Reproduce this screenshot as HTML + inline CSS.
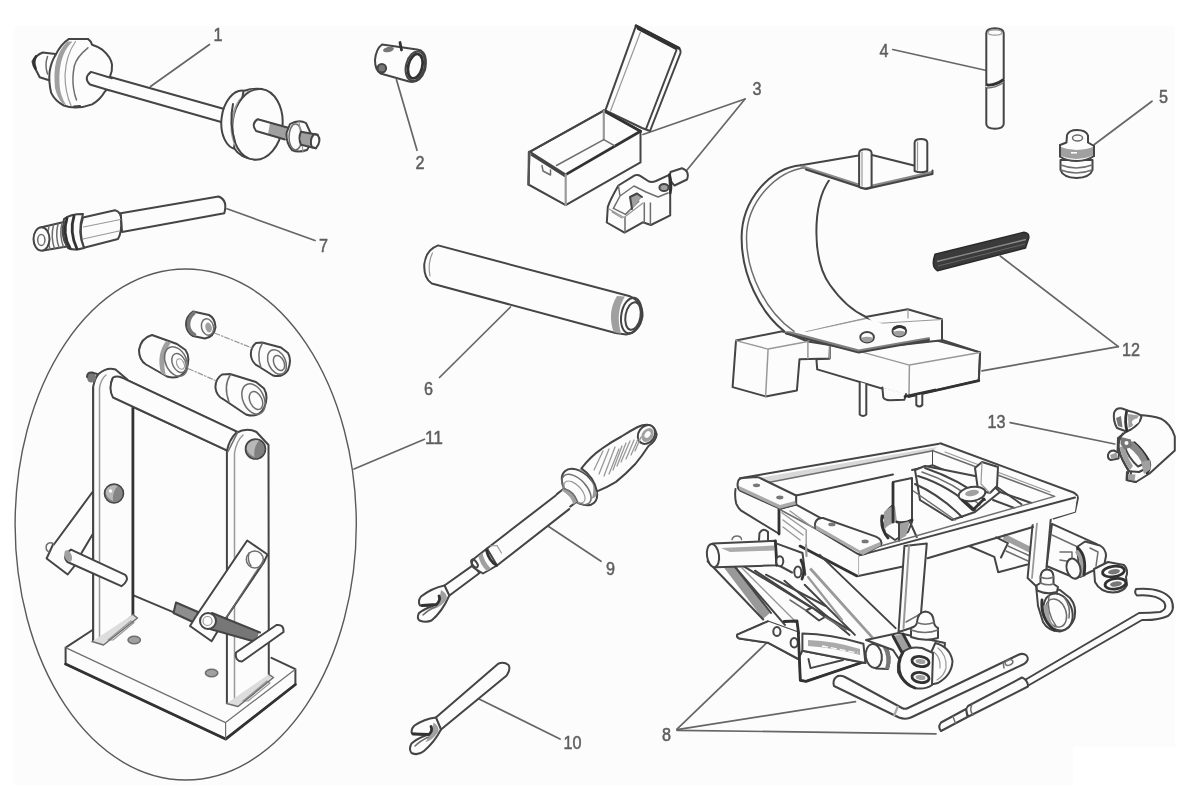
<!DOCTYPE html>
<html><head><meta charset="utf-8"><title>Workshop service tools</title>
<style>
html,body{margin:0;padding:0;background:#fff;}
body{width:1182px;height:811px;overflow:hidden;font-family:"Liberation Sans",sans-serif;}
svg{display:block;position:absolute;left:0;top:0;}
.d{stroke:#444;stroke-width:2;fill:none;stroke-linecap:round;stroke-linejoin:round}
.dw{stroke:#444;stroke-width:2;fill:#fcfcfc;stroke-linecap:round;stroke-linejoin:round}
.k{stroke:#333;stroke-width:2.8;fill:none;stroke-linecap:round;stroke-linejoin:round}
.m{stroke:#6e6e6e;stroke-width:1.5;fill:none;stroke-linecap:round;stroke-linejoin:round}
.mw{stroke:#6e6e6e;stroke-width:1.5;fill:#fcfcfc;stroke-linecap:round;stroke-linejoin:round}
.l{stroke:#999;stroke-width:1.2;fill:none;stroke-linecap:round;stroke-linejoin:round}
.g{fill:#a0a0a0;stroke:none}
.gd{fill:#777;stroke:none}
.w{fill:#fcfcfc;stroke:none}
.ld{stroke:#666;stroke-width:1.7;fill:none;stroke-linecap:round}
text{font-family:"Liberation Sans",sans-serif;font-weight:normal;font-size:18px;fill:#5e5e5e;stroke:#5e5e5e;stroke-width:0.5px;}
</style></head><body>
<svg width="1182" height="811" viewBox="0 0 1182 811">
<defs><filter id="bl" x="-2%" y="-2%" width="104%" height="104%"><feGaussianBlur stdDeviation="0.65"/></filter></defs>
<polygon points="14,26 1175,26 1175,747 1073,747 1073,785 14,785" fill="#fcfcfc"/>
<g filter="url(#bl)">
<!-- leaders -->
<g class="ld">
<path d="M209.5 44.5 L150.5 86.5"/>
<path d="M396.4 79.5 L417 150.3"/>
<path d="M745 99 L643 134.5"/><path d="M745 99 L687 170"/>
<path d="M892.7 49.5 L986.5 70.5"/>
<path d="M1152 101.2 L1094 144.7"/>
<path d="M510.5 307 L439.5 377.5"/>
<path d="M227 208.8 L315 240.5"/>
<path d="M677 729.2 L767 642.5"/><path d="M677 729.6 L855.5 701.7"/><path d="M677 730.3 L936 733.8"/>
<path d="M547.5 525.7 L601 561.3"/>
<path d="M478 698.4 L560 739"/>
<path d="M424.5 439.3 L354 469"/>
<path d="M1118.3 346.7 L1000.2 256"/><path d="M1118.3 346.7 L982 370.8"/>
<path d="M1010.2 422.7 L1114.7 444"/>
</g>
<g>
<text x="213.5" y="41" textLength="9" lengthAdjust="spacingAndGlyphs">1</text>
<text x="415.5" y="169" textLength="9" lengthAdjust="spacingAndGlyphs">2</text>
<text x="752.5" y="95" textLength="9" lengthAdjust="spacingAndGlyphs">3</text>
<text x="879.5" y="57" textLength="9" lengthAdjust="spacingAndGlyphs">4</text>
<text x="1159" y="103" textLength="9" lengthAdjust="spacingAndGlyphs">5</text>
<text x="424" y="395" textLength="9" lengthAdjust="spacingAndGlyphs">6</text>
<text x="319" y="252" textLength="9" lengthAdjust="spacingAndGlyphs">7</text>
<text x="662" y="741.3" textLength="9" lengthAdjust="spacingAndGlyphs">8</text>
<text x="606" y="575.3" textLength="9" lengthAdjust="spacingAndGlyphs">9</text>
<text x="563.5" y="749" textLength="18" lengthAdjust="spacingAndGlyphs">10</text>
<text x="425" y="443.5" textLength="18" lengthAdjust="spacingAndGlyphs">11</text>
<text x="1122" y="355.8" textLength="18" lengthAdjust="spacingAndGlyphs">12</text>
<text x="987.5" y="427.8" textLength="18" lengthAdjust="spacingAndGlyphs">13</text>
</g>
<!-- item 1 -->
<g>
 <!-- rod -->
 <path class="dw" d="M105 75.5 L226 109.5 L222 122.2 L104 88.7Z"/>
 <!-- left disc -->
 <!-- nut left -->
 <path class="dw" d="M55.4 54.1 L42.8 52.5 Q36 55 32.5 61.4 Q33 66 35.5 69 L39.7 77.2 L49.1 80.3 L56 80Z"/>
 <path class="k" d="M36 56.5 Q32.5 61 35.5 68.5"/>
 <path class="m" d="M47.5 56.5 Q44.5 65 47.5 74"/>
 <path class="dw" d="M69 38.9 L87.9 38.9 Q91 41 92.1 44.7 Q98 46.5 102.6 49.9 Q111 57 112 64.6 Q112.5 71 110 76.5 L108.5 87 Q107 90 104.7 91.8 Q100 100 92.1 104.4 Q84 107.5 75.3 107.6 Q69 107.5 63.8 105.5 Q55 101 51.2 92.9 Q48.5 82 49.6 71.9 Q51 62 55.4 55.2 Q61 44 69 38.9Z"/>
 <path class="g" d="M67 41.5 Q59 50 56 62 Q53.5 72 55 88 Q57 97 62 103 L66.5 105.5 Q60 96 59.5 84 Q58.5 68 63 56 Q66.5 47 72.5 41.5Z"/>
 <path class="l" d="M75.5 41.5 Q66 55 65 75 Q65 92 71 105.5"/>
 <path class="m" d="M87.9 47.8 Q76.5 57 74.3 66 Q72 78 73.5 88 Q74.5 95 76.5 100"/>
 <path class="d" d="M69 38.9 L87.9 38.9 M74 106.5 L80 106"/>
 <path class="dw" d="M112 78.3 L91 71.9 Q83 78 90 84.5 L109 90.3"/>
 <!-- right disc -->
 <g transform="rotate(7 240 120)">
  <ellipse class="dw" cx="240" cy="120" rx="18.5" ry="29.5"/>
 </g>
 <path class="dw" d="M243.5 91 Q252 88 262 89 L255 159.5 Q240 158 234 148Z"/>
 <g transform="rotate(6 257.5 124.3)">
  <ellipse class="dw" cx="257.5" cy="124.3" rx="25" ry="35.5"/>
  <path class="g" d="M250 90 A24 35 0 0 0 246 157 A17 34 0 0 1 250 90Z"/>
 </g>
 <path class="d" d="M233 104 Q229 122 235 142"/>
 <!-- stub -->
 <path class="g" d="M270 122.8 L288.3 127.9 L285 139.6 L268 134.6Z"/>
 <path class="d" d="M288.3 127.7 L257.8 119.2 Q250.5 124 256.1 131 L284.9 139.5"/>
 <!-- nut -->
 <path class="dw" d="M290 124 Q299 119 306 123 L310.5 133 Q312 143 307 150 Q298 153 292 150 Q286 143 286.5 133Z"/>
 <ellipse class="m" cx="295.5" cy="137" rx="6.5" ry="13"/>
 <path class="l" d="M299 121.5 L303 152"/>
 <!-- end stub -->
 <path class="g" d="M301 132 L314 134 L312.5 147.5 L301 144.8Z"/>
 <path class="dw" d="M314 134 L317.5 134.7 Q322 141 316 148.2 L312 147.3 Q309 140 314 134Z"/>
 <path class="d" d="M301 131.8 L317.5 134.7 M301 144.8 L316 148.2 M301 131.8 Q298 138 301 144.8"/>
</g>
<!-- item 7 -->
<g>
 <path class="dw" d="M120.7 213.2 L218.5 196.5 Q228 200 224.3 213.2 L122 232Z"/>
 <!-- hex body -->
 <path class="dw" d="M83 217.5 L115 210.3 Q121.5 212 121 220 Q122 232 118 239 L84 247.8 Q78 232 83 217.5Z"/>
 <path class="l" d="M83.5 227 L120.5 219.5 M83 239 L119 231"/>
 <!-- flange -->
 <path class="dw" d="M64 219 Q70 214 83 214 Q77 232 84 248 Q74 251 68 248 Q60 234 64 219Z"/>
 <path class="k" d="M67 218 Q62 234 70 248 M74 216 Q69 232 77 249"/>
 <!-- threaded -->
 <path class="dw" d="M41.5 227.3 L64 222 Q60 234 67 246.5 L43 250.5Z"/>
 <path class="m" d="M49 226 Q46 238 50 249 M53.5 225 Q50.5 237 54.5 248.5 M58 224 Q55 236 59 247.5 M62 223 Q59 235 63.5 247"/>
 <ellipse class="dw" cx="41.5" cy="239" rx="8" ry="11.7"/>
 <ellipse class="m" cx="41.3" cy="240" rx="3.6" ry="5.6"/>
</g>
<!-- item 2 -->
<g>
 <path class="dw" d="M382 44.5 Q376 49 375 60 Q375 70 380.5 73.5 L409 81.5 Q420 84 425 70 Q428 55 421 50.5 L417 49.6 Z"/>
 <ellipse class="d" cx="415.3" cy="66.2" rx="9.3" ry="15" transform="rotate(14 415.3 66.2)"/>
 <ellipse class="k" cx="415.3" cy="66.2" rx="7" ry="12.5" transform="rotate(14 415.3 66.2)"/>
 <ellipse class="gd" cx="388.5" cy="49.5" rx="5.5" ry="2.6" transform="rotate(-12 388.5 49.5)"/>
 <path class="k" d="M400 42.5 L401.5 50"/>
 <circle class="gd" cx="381.8" cy="68.3" r="4.3"/>
 <circle class="d" cx="381.8" cy="68.3" r="4.3"/>
</g>
<!-- item 3 box -->
<g>
 <!-- lid -->
 <path class="dw" d="M636 25.7 L679 48 Q681 50 680.5 53 L650 131 L642 128 L605.4 110.3Z"/>
 <path class="k" d="M636 25.7 L679 48.3 M638 28.5 L676 48.5"/>
 <path class="d" d="M676.5 50 L646 129"/>
 <path class="l" d="M640.5 32 L610.5 111"/>
 <!-- box body -->
 <path class="dw" d="M603.8 110.7 L640.5 131.2 L640.5 162.4 L565.7 205.1 L528.4 184.5 L529.5 151.8Z"/>
 <path class="k" d="M603.8 110.7 L640.5 131.2"/>
 <path class="k" d="M640.5 131.2 L565.7 174.6"/>
 <path class="d" d="M529.9 151.8 L603.8 110.7"/>
 <path class="d" d="M529.9 151.8 L565.7 174.6 M531.5 155 L564.5 176"/>
 <path class="m" d="M565.7 174.6 L565.7 205.1" style="stroke-width:2.2;stroke:#999"/>
 <path class="m" d="M603.8 111 L603.8 139.6" style="stroke-width:2.2;stroke:#999"/>
 <path class="m" d="M603.8 139.6 L556.5 165.5 M603.8 139.6 L614.4 145.7"/>
 <path class="m" d="M529 152 L528.6 184.5" style="stroke-width:2.4;stroke:#555"/>
 <path class="m" d="M542 165.5 L543 171 L550.5 175 L550.5 170"/>
 <!-- clip -->
 <path class="dw" d="M606.8 222.5 L607.8 207 Q610 200 618.4 185.5 L634.7 175.4 Q638 174.5 641 176.4 L648.9 181.5 Q652 182.5 656 181 L669.2 174.8 L670.2 193 L670.2 215.4 L650.9 225 L642.8 222.3 L624.5 232.6Z"/>
 <path class="dw" d="M670.5 172 L682 168.2 Q690 171 687 179.5 L674.5 185.5 Q668 180 670.5 172Z"/>
 <path class="k" d="M669.5 174.5 Q672 184 670.2 193"/>
 <ellipse class="g" cx="664" cy="187.5" rx="4.6" ry="3.6"/>
 <ellipse class="d" cx="664" cy="187.5" rx="4.6" ry="3.6"/>
 <path class="m" d="M613.4 208.3 L625.5 214.4 L638.7 201.2 M625 217.4 L625 232.6 M644.3 203 L644.3 222.5 M650.4 203 L650.4 224.5"/>
 <path class="m" d="M618.4 185.5 L620 196 L613.4 208.3 M620 196 L634 186 L646 192 L658 197 L668 193"/>
 <path class="g" d="M630 197 L637 193.5 L642 197 L632 209Z"/>
 <path class="d" d="M630 197 L637 193.5 L642 197 M630 197 L632 209"/>
 <path class="l" d="M609 209 L624 217.5 L643 203 M612 212 L622 218"/>
</g>
<!-- item 4 pin -->
<g>
 <path class="dw" d="M986.3 33 Q986.5 28.5 995 28.3 Q1003.5 28.5 1003.7 33 L1003.7 124 Q1003.5 128.5 995 128.7 Q986.5 128.5 986.3 124Z"/>
 <path d="M985 86.5 L988.5 84.5 L988.5 88.5Z M1005 79 L1001.5 81 L1001.5 84Z" fill="#fcfcfc"/><path class="k" d="M987.5 85 Q995 85.5 1003 80"/>
 <path class="m" d="M987 88 Q996 88 1003.5 82.5"/>
 <ellipse class="l" cx="995" cy="32.5" rx="7" ry="2.6"/>
</g>
<!-- item 5 plug -->
<g>
 <path class="dw" d="M1060.5 160 L1092.5 160 L1092.5 170 Q1090 177.5 1076.5 178 Q1063 177.5 1060.5 170Z"/>
 <path class="m" d="M1061 165 Q1076 171 1092 165 M1061 170 Q1076 176 1092 170"/>
 <path class="dw" d="M1060 145 L1066.5 142.5 L1067 135 Q1069 130 1077 130 Q1086 130 1088 135.5 L1088 142.5 L1094 146 L1094 156 Q1087 161 1077 161 Q1066 161 1060 156.5Z"/>
 <path class="g" d="M1060.5 147 Q1077 153 1093.5 147 L1093.5 155.5 Q1077 162 1060.5 156Z"/>
 <path class="d" d="M1060 145 L1060 156.5 M1094 146 L1094 156"/>
 <ellipse class="m" cx="1077.5" cy="138" rx="5" ry="3"/>
 <path class="w" d="M1071 152 h6 v1.6 h-6z"/>
</g>
<!-- item 6 tube -->
<g>
 <path class="dw" d="M438.1 245.4 L630 296.3 Q643 302 642.5 316 Q640 332 626 334.5 L615.5 333 L431.8 283.5 Q423.5 278 424.3 264 Q426 250 438.1 245.4Z"/>
 <path class="g" d="M617 296 Q607 312 613.5 332 L621 333.8 Q615 312 625 296.5Z"/>
 <ellipse class="d" cx="631.3" cy="315.5" rx="10" ry="18" transform="rotate(10 631.3 315.5)"/>
 <ellipse class="d" cx="633" cy="316" rx="7.5" ry="14" transform="rotate(10 633 316)"/>
 <path class="l" d="M432.5 253 Q427.5 263 430 276"/>
</g>
<!-- item 12 -->
<g>
 <!-- right block + beam -->
 <path class="dw" d="M858.7 351 L929.8 338.5 L980.1 352.4 L978.8 380.6 L908.9 396.5 L817.2 369.4 L816.4 359.2 L829.5 358.4 L829.9 345Z"/>
 <path class="d" d="M942 340 L980.1 352.4 L978.8 380.6" />
 <path class="k" d="M978.8 380.6 L908.9 396.5"/>
 <path class="l" d="M860.4 351.6 L909.4 365.1 L980 352.4 M909.4 365.1 L909 395.5" style="stroke-width:1.5"/>
 <!-- back block -->
 <path class="dw" d="M865.4 317 L907.7 309.3 L942 319.3 L942 340.3 L900 345Z"/>
 <path class="l" d="M908 309.5 L908 318 M868 324 L942 319.5" />
 <!-- pins below -->
 <path class="dw" d="M859.7 382 L859.7 414.5 Q863 417.5 866.3 414.5 L866.3 384"/>
 <path class="dw" d="M882.4 387.5 L883.2 397 Q884 400 890 400.3 L904.4 399.8 L906 394"/>
 <path class="dw" d="M916.3 395 L916.3 405 Q919.3 408 922.3 405 L922.3 394"/>
 <path class="k" d="M905 396.5 L935 390"/>
 <!-- left block -->
 <path class="dw" d="M736 340.6 L782.5 331.3 L808 341.5 L829.9 345 L829.5 358.4 L799.5 359.2 L796.9 390.5 L765.6 396.4 L732.6 387.1Z"/>
 <path class="l" d="M736 340.6 L768.1 349.1 L807.9 341.5 M768.1 349.1 L765.6 396.4 M807.9 341.5 L807.9 358.6 M829.9 345 L829.5 358" style="stroke-width:1.5"/>
 <!-- plate -->
 <path class="w" d="M784.2 331.3 L865.4 318.6 L929.8 338.5 L858.7 351Z"/>
 <path class="l" d="M806.2 331.3 L865.4 318.6" style="stroke-width:1.5"/>
 <path d="M784.2 331.3 L858.7 351 L929.8 338.5" style="stroke:#808080;stroke-width:3;fill:none;stroke-linejoin:round"/>
 <path class="d" d="M786 333.5 L858.7 352.6 L929 340"/>
 <!-- bolts -->
 <ellipse class="dw" cx="867.1" cy="337.2" rx="6.8" ry="5.2"/><path class="g" d="M861 338 Q867 335.5 873.3 338 Q872 342.3 867 342.3 Q862 342.3 861 338Z"/>
 <ellipse class="dw" cx="899.3" cy="331.3" rx="6.8" ry="5.2"/><path class="g" d="M893.2 332 Q899 329.5 905.5 332 Q904 336.3 899.3 336.3 Q894 336.3 893.2 332Z"/>
 <path class="k" d="M894 328.5 Q899 325 904.5 328"/>
 <!-- curved band -->
 <path class="w" d="M801 165.2 C770 168 741.6 200 741.6 238 C741.6 275 760 312 784.2 331.3 L806 331.3 L866 317 C855 312 842 302 830 285 C812 260 812 205 829.2 180Z"/>
 <path class="d" d="M801 165.2 C770 168 741.6 200 741.6 238 C741.6 275 760 312 784.2 331.3"/>
 <path class="m" d="M806 167.5 C776 171 746.5 202 746.5 238 C746.5 273 766 312 794 331.3"/>
 <path class="d" d="M829.2 180 C812 205 812 260 830 285 C842 302 855 312 866 317"/>
 <!-- top plate -->
 <path class="w" d="M801 165.2 L864.8 154.2 L932.2 171.3 L866 187.5 L829.2 180Z"/>
 <path class="d" d="M801 165.2 L860 155.2 M871 154.8 L915 165.8"/>
 <path d="M801 166.5 L866 187.5 L932 172.5" style="stroke:#8a8a8a;stroke-width:3.2;fill:none;stroke-linejoin:round"/>
 <path class="d" d="M806 169.5 L866 189 L932.5 174 L932.5 170.5"/>
 <!-- pins -->
 <path class="dw" d="M859.1 187 L859.1 153 Q859.5 149.3 865.3 149.3 Q871.3 149.3 871.6 153 L871.6 187 Q865.5 190 859.1 187Z"/>
 <path class="l" d="M862 152 L862 186"/>
 <path class="dw" d="M914.6 171 L914.6 142.5 Q915 139 921 139 Q927 139 927.3 142.5 L927.3 171 Q921 173.5 914.6 171Z"/>
 <path class="l" d="M917.5 142 L917.5 170"/>
 <!-- dark rod -->
 <path d="M935 254.2 L1024 232.3 Q1029.5 233 1028.8 238 L1025.5 248 L937.5 270.8 Q930.5 267 935 254.2Z" fill="#3a3a3a" stroke="#2c2c2c" stroke-width="1.4" stroke-linejoin="round"/>
 <path d="M937 261.5 L1026 239.5" stroke="#8a8a8a" stroke-width="1.3" fill="none"/>
 <path d="M938 266 L1025 244" stroke="#666" stroke-width="1" fill="none"/>
</g>
<!-- item 13 clamp -->
<g>
 <path class="dw" d="M1139 415 Q1152 415.5 1161 418.7 Q1171 424 1174.8 436.5 L1174.8 450.5 L1149.5 473.5 L1136 482 L1127 480 L1128.5 471 L1117.6 450 L1118 438 L1126.5 431.5Z"/>
 <!-- front ring -->
 <path class="k" d="M1134.4 442.7 Q1143 450 1149.2 461.4 Q1151 468 1147 473"/>
 <path d="M1132 441 Q1143 449 1148.5 462 L1144 468 Q1140 455 1127 446Z" fill="#888"/>
 <path class="d" d="M1123 433.5 Q1117.5 440 1119 449 Q1121 460 1129.4 471.3 L1139 472 L1147 468 M1124.5 445.6 Q1128 458 1138 466.5 L1143.5 464"/>
 <path class="g" d="M1119.5 447 Q1122 459 1130 470 L1133 466 Q1127 457 1124.5 446Z"/>
 <!-- top lug -->
 <path class="dw" d="M1114 413 Q1116 407.5 1122 408.5 L1129 411 Q1139 413 1141.5 416.5 Q1140 424 1131 429.5 L1126.5 431.5 L1117 428 Q1113 421 1114 413Z"/>
 <path class="gd" d="M1116 418 L1121 416 L1122.5 427.5 L1118 426Z"/>
 <path class="k" d="M1126.5 412 Q1124.5 422 1127 431"/>
 <path class="g" d="M1128 414 L1139 415.5 L1132 426.5 L1128.5 428Z"/>
 <ellipse class="w" cx="1135.5" cy="421.5" rx="3.8" ry="2.6" transform="rotate(-30 1135.5 421.5)"/>
 <!-- center lug -->
 <path class="gd" d="M1121 437 L1131 439.5 L1132 447 L1124 449.5 L1120.5 444Z"/><circle class="w" cx="1126.5" cy="443" r="2"/>
 <!-- left lug -->
 <path class="dw" d="M1108 455 Q1109 450.5 1114 450.5 L1119 453 L1118.5 458.5 L1111 460 Q1107.5 459 1108 455Z"/>
 <path class="g" d="M1110 455 L1116.5 452.5 L1117.5 457.5 L1111.5 459Z"/>
 <!-- bottom lugs -->
 <path class="g" d="M1141 462 L1150 460 L1151 469 L1144 474Z"/>
 <path class="d" d="M1127 472 L1126.5 480 L1136 482 M1131 471.5 L1130.5 480.5"/>
 <path class="g" d="M1128 474 L1135.5 474.5 L1134.5 481 L1128 479.5Z"/>
</g>
<!-- item 11 ellipse group -->
<g>
 <ellipse cx="185.7" cy="524.5" rx="170.6" ry="255.5" fill="none" stroke="#5a5a5a" stroke-width="1.4"/>
 <!-- bushings -->
 <g>
  <!-- A small -->
  <path class="dw" d="M193 311.5 Q186 316 186 325 Q187 333 193 336 L205 338.5 Q214 337 215.5 327 Q215 318 209 315Z"/>
  <path d="M194 313 Q188 318 188.5 325.5 Q189.5 332 194.5 334.5" stroke="#777" stroke-width="3.6" fill="none" stroke-linecap="round"/>
  <ellipse class="m" cx="207.5" cy="327" rx="6" ry="8.3" transform="rotate(-15 207.5 327)"/>
  <ellipse class="g" cx="208.6" cy="327.5" rx="3.2" ry="5" transform="rotate(-15 208.6 327.5)"/>
  <!-- B left big -->
  <path class="dw" d="M152 335 Q141 338 139 350 Q139 360 146 364.5 L167 376.5 Q180 380 186 370 Q191 358 185.5 350 L177 344Z"/>
  <path class="g" d="M166 341 Q156 355 161 373 L166 376 Q161 357 171 342.5Z"/>
  <ellipse class="m" cx="176" cy="361.5" rx="10.5" ry="15.5" transform="rotate(-25 176 361.5)"/>
  <ellipse class="m" cx="179" cy="363" rx="6.5" ry="10" transform="rotate(-25 179 363)"/>
  <ellipse class="l" cx="180.5" cy="364" rx="3.5" ry="5.5" transform="rotate(-25 180.5 364)"/>
  <!-- C right top -->
  <path class="dw" d="M256 343 Q250 348 251 356 Q252 363 258 366 L273 375.5 Q283 378 288 370 Q292 360 288 353 L281 347.5 L262 342.5Z"/>
  <path class="m" d="M262.5 343 Q256 353 261 367.5"/>
  <ellipse class="m" cx="277" cy="362" rx="8.5" ry="13" transform="rotate(-25 277 362)"/>
  <ellipse class="m" cx="279" cy="363" rx="5" ry="8" transform="rotate(-25 279 363)"/>
  <!-- D right bottom -->
  <path class="dw" d="M222 374.5 Q215 379 215.5 388 Q216.5 396 223 399 L246 414.5 Q258 418.5 264 408 Q269 397 264 388.5 L256 382 L230 374Z"/>
  <path class="m" d="M230.5 374.5 Q223 386 229 402"/>
  <ellipse class="m" cx="253.5" cy="399" rx="10.5" ry="16" transform="rotate(-25 253.5 399)"/>
  <ellipse class="m" cx="256" cy="400.5" rx="6" ry="9.5" transform="rotate(-25 256 400.5)"/>
  <path class="l" d="M215 333.2 L253 348.4 M188.5 368.7 L217.5 381.4" stroke-dasharray="5 2 1.5 2"/>
 </g>
 <!-- base plate -->
 <path class="w" d="M65.6 647.6 L92.5 630 L132.9 595 L226.9 630 L271.5 657.8 L295.4 669.2 L295.4 684.5 L225.6 739.1 L65.6 664.1Z"/><path class="d" d="M65.6 647.6 L92.5 630 M65.6 647.6 L65.6 664.1 L225.6 739.1 L295.4 684.5 L295.4 669.2 L271.5 657.8"/>
 <path class="k" d="M65.6 664.1 L225.6 739.1 L295.4 684.5"/>
 <path class="m" d="M65.6 647.6 L225.6 722.6 L295.4 669.2 M225.6 722.6 L225.6 739.1" style="stroke-width:1.2"/>
 <!-- back plate -->
 <path class="w" d="M132.9 400 L226.9 446 L226.9 630 L132.9 595Z"/>
 <path class="d" d="M132.9 595.1 L175 612.9"/>
 <!-- top bar -->
 <path class="dw" d="M113 377.5 Q118 374 127.3 380.2 L237.8 432.2 L229 451.3 L113 397.5 Q108 388 113 377.5Z"/>
 <!-- left upright -->
 <path class="dw" d="M93.2 388 L93.2 640.5 L100 642 L132.9 614.6 L132.9 404 L111 394.5Z"/>
 <path class="w" d="M93.2 640 L93.2 386 Q95 378 98.5 374 Q107 367 115 369 L127 379 L111 378 Q108 388 112 397 L132.9 407 L132.9 614 L100 641.5Z"/>
 <path class="d" d="M93.2 640.5 L93.2 386.5 Q95 378 98.5 374 Q107 366.5 115.5 369.5 L127.3 379.5"/>
 <path class="l" d="M99.5 640 L99.5 388 Q101 379 106 375" style="stroke-width:1.5"/>
 <path class="k" d="M132.9 408 L132.9 614.6"/>
 <ellipse class="gd" cx="91.5" cy="377.6" rx="4.5" ry="5"/><path class="d" d="M87 377 Q87 372 92 372.5 L97 374"/>
 <!-- top bar redraw over upright -->
 <path class="dw" d="M113 377.5 Q118 374.5 127.3 380.2 L237.8 432.2 L229 451.3 L113 397.5 Q108 388 113 377.5Z"/>
 <!-- nut on left upright -->
 <circle cx="114" cy="493.5" r="9.5" fill="#858585"/><path d="M105 490 Q110 484 118 485.5 Q112 492 113 501 Q106 498 105 490Z" fill="#b8b8b8"/><circle class="d" cx="114" cy="493.5" r="9.5" style="stroke-width:1.6"/>
 <circle class="w" cx="110.5" cy="491" r="1.7"/>
 <!-- left arm -->
 <path class="d" d="M92.5 492 L53.5 545 M92.5 534.5 L81.5 553"/>
 <path class="dw" d="M53 544.5 L46.6 558.5 L67.7 574.5 L74.5 566"/>
 <path class="m" d="M54 544 Q49 541 46.5 545 Q45 550 49 552"/>
 <!-- left pin -->
 <path class="dw" d="M71 549.6 L125.3 574.8 Q130 580 121.4 586.2 L67.5 562 Q61.5 556 71 549.6Z"/>
 <ellipse class="g" cx="68.2" cy="556" rx="3.5" ry="6" transform="rotate(-20 68.2 556)"/>
 <!-- right upright -->
 <path class="w" d="M226.9 703 L226.9 450 Q229 440 236 432.5 Q247 427 256 432 L268.5 445 L268.8 674 L234.5 703.5Z"/>
 <path class="d" d="M226.9 703 L226.9 451 Q229 440 236 433 Q247 427 256.5 432 L268.5 445 L268.8 674.3"/>
 <path class="l" d="M234.5 703 L234.5 453 Q236.5 441 243 435" style="stroke-width:1.5"/>
 <path class="m" d="M228 451.5 L237.8 432.2"/>
 <circle cx="255.5" cy="449" r="10" fill="#808080"/><path d="M246 446 Q251 439 259.5 440 Q253 447 254.5 457 Q247 454 246 446Z" fill="#b8b8b8"/><circle class="d" cx="255.5" cy="449" r="10" style="stroke-width:1.6"/>
 <!-- gray stub -->
 <path d="M176 602.5 L198 612 L195 623 L173.5 613Z" fill="#8e8e8e"/><path class="d" d="M176 602.5 L198 612 L195 623 L173.5 613Z"/>
 <!-- right arm -->
 <path class="dw" d="M247.2 540.5 L267.5 554.5 L263.7 562.5 L222 624 L211.6 641.3 L190 626 L195.5 617Z"/>
 <circle class="m" cx="254.8" cy="559.5" r="8.5"/><path class="m" d="M249 553 Q247 560 251 566"/>
 <path class="m" d="M263 561 L222 624" style="stroke-width:1.2"/>
 <!-- right pin -->
 <path class="gd" d="M213 614 L259 632.5 L256 641.5 L211 629Z"/>
 <path class="d" d="M212 613 L260 632.5 M210 629 L256 642"/>
 <circle class="dw" cx="208" cy="621" r="8"/><circle class="l" cx="207.5" cy="621" r="4.5"/>
 <!-- T pin -->
 <path class="dw" d="M236 652.5 L276.5 625 Q284 624 283.5 632 L242 661.5 Q234.5 661 236 652.5Z"/>
 <path d="M132.9 614.6 L137.5 618 L103.5 645 L92 641.5Z" fill="#ddd"/><path class="l" d="M131 621 L108 640 L113 640 L134 622.5Z"/>
 <path class="m" d="M132.9 614.6 L137.5 618 L103.5 645 L92 641.5"/>
 <path d="M268.8 674.3 L273.5 677.5 L238 706.5 L226.5 703.5Z" fill="#ddd"/><path class="l" d="M267 681 L243 701 L248 701 L270 683Z"/>
 <path class="m" d="M268.8 674.3 L273.5 677.5 L238 706.5 L226.5 703.5"/>
 <ellipse class="g" cx="134.2" cy="640" rx="6.2" ry="3.8"/><ellipse class="m" cx="134.2" cy="640" rx="6.2" ry="3.8"/>
 <ellipse class="g" cx="211.6" cy="673" rx="6.2" ry="3.8"/><ellipse class="m" cx="211.6" cy="673" rx="6.2" ry="3.8"/>
</g>
<!-- item 9 -->
<g>
 <!-- thin shaft + fork -->
 <path class="dw" d="M472.8 565.4 L444.1 585.7 L449.1 595.8 L479.6 573Z"/>
 <path class="dw" d="M444.5 585.5 Q432 588 421 596.5 Q417.5 601 420 605.5 L433 606 Q424 609 419 613 Q416.5 618 419.5 620.5 Q426 623 431.5 620.5 Q442 612 449.3 595.5Z"/>
 <path class="g" d="M441 590 Q447 593 447 599 Q440 608 433 609 Q440 600 441 590Z"/>
 <path class="k" d="M422 605.5 L436.5 604.5 Q441 600 439 596"/>
 <path class="m" d="M436 606.5 Q428 610 423 615"/>
 <!-- thick shaft -->
 <path class="w" d="M555.7 495.5 L487 548.5 L497 565.5 L569.2 509.1Z"/><path class="d" d="M555.7 495.5 L487 548.5 M497 565.5 L569.2 509.1"/>
 <!-- sleeve -->
 <path class="dw" d="M487 548.5 L473 559.5 Q470 565 474 568 L483 573.5 L497 565.5Z"/>
 <path class="g" d="M478.5 556 Q480 565 487 571 L491 568.5 Q484 562 482.5 553Z"/>
 <path class="k" d="M486.4 550 Q489 561 496.5 565.4"/>
 <ellipse class="d" cx="474.5" cy="563.5" rx="2.3" ry="4.6" transform="rotate(-35 474.5 563.5)"/>
 <path class="l" d="M490 546 L497 545.5 L501.5 553"/>
 <!-- collar -->
 <ellipse class="dw" cx="579.5" cy="487" rx="13.5" ry="21.5" transform="rotate(-43 579.5 487)"/>
 <path d="M581.5 468.5 Q592 471 596.5 481 Q599 490 595.5 497 L591.5 499 Q595 490 592 482 Q588 473 578.5 470Z" fill="#999"/>
 <ellipse class="m" cx="576.5" cy="489.5" rx="10" ry="18.5" transform="rotate(-43 576.5 489.5)"/>
 <ellipse class="l" cx="574.5" cy="492" rx="7" ry="13.5" transform="rotate(-43 574.5 492)"/>
 <path class="w" d="M556.6 494.4 L564 488.5 Q573 491 577 501.5 L570.2 506.6Z"/>
 <path class="d" d="M556.6 494.4 L563 489.3 M570.2 506.6 L577 501.5"/>
 <path class="g" d="M564 488.5 Q574 491.5 577.5 501.5 L573.5 504.5 Q571 495.5 561.5 490.5Z"/>
 <path class="m" d="M564 488.5 Q574 491.5 577.5 501.5"/>
 <!-- handle -->
 <path class="dw" d="M581.4 468.3 Q591 456 601 449.3 Q611 442 621.4 436.5 Q630 431 637.7 427 Q643 424.5 647.2 424.7 Q655 426 656.7 434.4 Q656 441 648.5 446 Q642 456 635 464.3 Q626 474 616 481.9 Q606 488 597 491.4 Q594 477 581.4 468.3Z"/>
 <ellipse class="dw" cx="646.5" cy="434.5" rx="8" ry="10" transform="rotate(35 646.5 434.5)"/>
 <ellipse class="g" cx="647.5" cy="435" rx="5.5" ry="7.5" transform="rotate(35 647.5 435)"/><ellipse class="w" cx="647.5" cy="434.5" rx="2.6" ry="3.8" transform="rotate(35 647.5 434.5)"/>
 <path class="l" d="M594 470 L603 451 M599 474 L609 449 M604 476 L615 447 M609 474 L619 449 M621 462 L630 441 M626 459 L634 440 M631 455 L638 439 M613 470 L622 446 M617 466 L626 443 M635 451 L641 437" style="stroke-width:1.3"/>
</g>
<!-- item 10 -->
<g>
 <path class="dw" d="M498.2 663.7 Q504 661.5 508.5 665 Q511 669 506.7 675.5 L440.7 729.7 L435.6 717.8Z"/>
 <path class="dw" d="M436 717.5 Q424 719 414.5 725.5 Q410.5 729.5 412 733.5 L427 735 Q417 738.5 411.5 743.5 Q408.5 749 411.5 753 Q418 756 424 751 Q434.5 742 441 729.5Z"/>
 <path class="g" d="M433.5 722.5 Q439 725.5 438.5 731.5 Q432 741 425.5 742 Q432 733 433.5 722.5Z"/>
 <path class="k" d="M413 734 L429 734.5 Q433 730.5 431 726.5"/>
 <path class="m" d="M428.5 737 Q420 741 415 746"/>
</g>
<!-- item 8 jack -->
<g>
 <!-- ===== far side: right arm, screw eye, right leg, back caster ===== -->
 <!-- upper right arm (from frame to screw block) -->
 <path class="dw" d="M1052 523.9 L1096.8 544.2 L1085 560 L1075 578 L1046.6 566Z"/>
 <path class="m" d="M1052 535 L1080 548 M1060 552 L1072 552 L1072 562 L1060 560"/>
 <!-- block -->
 <path class="dw" d="M1077 547 L1085 541.5 L1100 545.5 Q1106 549 1106 556 L1104 566 L1090 572 L1080 577Z"/>
 <path class="g" d="M1079 549 Q1087 556 1085 575 L1080 577 Q1082 560 1075 552Z"/>
 <path class="k" d="M1078 548 Q1087 556 1084 575"/>
 <ellipse class="dw" cx="1073.5" cy="568.6" rx="6.8" ry="10.2" transform="rotate(-15 1073.5 568.6)"/>
 <path class="m" d="M1090 548 L1098 552 L1096 566"/>
 <!-- screw eye rings -->
 <path class="dw" d="M1094 569 L1108 562 L1124 565 Q1129 570 1126 577 L1127 585 Q1124 592 1113 592.5 Q1100 592 1095 582Z"/>
 <ellipse class="k" cx="1113.5" cy="571.5" rx="11" ry="5.2" transform="rotate(-8 1113.5 571.5)"/>
 <ellipse class="gd" cx="1114" cy="571.7" rx="6" ry="2.6" transform="rotate(-8 1114 571.7)"/>
 <ellipse class="k" cx="1115.5" cy="583.8" rx="10.5" ry="5.2" transform="rotate(-8 1115.5 583.8)"/>
 <ellipse class="gd" cx="1116" cy="584" rx="6" ry="2.6" transform="rotate(-8 1116 584)"/>
 <!-- back caster -->
 <g>
  <path class="dw" d="M1036 585 L1060 590 L1070 598 Q1077 606 1074.5 618 Q1071 629 1060 631.5 Q1048 631 1043 622 L1038 606Z"/>
  <ellipse class="d" cx="1058" cy="612" rx="14" ry="19" transform="rotate(-20 1058 612)"/>
  <ellipse class="m" cx="1056" cy="613" rx="10" ry="14.5" transform="rotate(-20 1056 613)"/>
  <path class="g" d="M1043 606 Q1044 622 1055 629 Q1048 618 1048 604Z"/>
  <path class="k" d="M1042 600 Q1040 618 1054 630"/><path class="m" d="M1049 596 Q1046 612 1056 626 M1064 597 Q1071 606 1069 618"/>
 </g>
 <!-- under-frame cross members (right-back) -->
 <path class="d" d="M969 546 L994.3 556.8 L998.2 572.3 L1027.3 564.5"/>
 <path class="d" d="M996.2 537.3 L1007.9 543.1 L1001 557.5"/>
 <path class="g" d="M1004 533.5 L1031 547 L1031 553.5 L1003 539.5Z"/>
 <path class="m" d="M1008 546 L1030 556 M1006 551 L1028 561"/>
 <!-- right leg -->
 <path class="dw" d="M1033.7 513 L1052 505 L1046.6 566 L1046 581 L1036 586 L1027.6 578Z"/>
 <path class="l" d="M1038 512 L1032 578" style="stroke-width:1.8"/>
 <path class="dw" d="M1040.5 583 L1040.5 576.5 Q1041.5 569.5 1047 569.5 Q1053 569.5 1053.5 576.5 L1053.5 584 L1058 587 L1057 592 Q1047 595 1037 590.5 L1036.5 585.5Z"/>
 <path class="m" d="M1040.5 577 Q1047 580 1053.5 577 M1040.5 583 Q1047 586 1053.5 584"/>
 <!-- ===== frame ===== -->
 <!-- L->B rail -->
 <path class="w" d="M740 478.2 L940.8 443.5 L933 465.3 L796 495.5Z"/>
 <path d="M758 478 L940 446.5 L933 451 L770 482.5Z" fill="#d8d8d8"/>
 <path class="d" d="M740 478.2 L940.8 443.5"/>
 <path class="m" d="M769.7 482.3 L933 450.7"/>
 <path class="d" d="M796.1 495.5 L893 474.5 M912 470 L933 465.3 L933 450.7"/>
 <!-- B->R rail -->
 <path class="w" d="M940.8 443.5 L1077 494.5 L1054.6 496.4 L1022 504 L933 465.3 L933 450.7Z"/>
 <path class="d" d="M940.8 443.5 L1073.5 492.5 Q1079 495.5 1077.5 500 L1075 511.7 L1053.4 518.5"/>
 <path class="m" d="M933 450.7 L1054.6 496.4"/>
 <path class="d" d="M933 465.3 L975 483 M997 487 L1021.5 504.2"/>
 <path class="l" d="M945 452 L1050 492" />
 <!-- ===== inside frame: top scissor pivot parts ===== -->
 <!-- inner slanted plates -->
 <path class="dw" d="M915 470 L925 466 L985 478 L1000 492 L975 512 L952 520 L920 500Z"/>
 <path class="d" d="M918 476 Q950 486 975 510 M925 468 Q960 480 985 500 M915 484 Q940 495 962 517"/>
 <path class="m" d="M922 472 Q955 483 980 505 M912 490 L955 520"/>
 <path class="dw" d="M975 468 L982 462 L998 467 L997 486 L990 493 L978 490Z"/>
 <path class="l" d="M982 462 L981 484 L990 493"/>
 <ellipse class="dw" cx="972" cy="494" rx="13.5" ry="7" transform="rotate(-10 972 494)"/>
 <ellipse class="g" cx="972" cy="493" rx="7" ry="3" transform="rotate(-10 972 493)"/>
 <path class="k" d="M962 500 L973 510 L984 499"/>
 <path class="d" d="M1000 492 L1040 506 M993 500 L1020 510"/>
 <!-- center post + pivot -->
 <path class="dw" d="M893 482 L912 478 L912 522 L908 532 L895 540 L885 533 L882 520 Q886 510 893 505Z"/>
 <path class="g" d="M884 512 Q890 506 895 506 L897 522 Q888 524 884 530Z"/>
 <path class="k" d="M893 483 L893 522 M882 516 Q880 528 888 538 M897 522 Q904 524 912 520"/>
 <path class="g" d="M898 524 L910 521 L906 536 L899 540Z"/>
 <path class="d" d="M899 523 L899 541 M910 522 L918 540"/>
 <!-- F->R rail -->
 <path class="w" d="M858.3 555.6 L1054.6 496.4 L1077 496 L1075 511.7 L858.3 575.9Z"/>
 <path class="d" d="M858.3 555.6 L1075 497.5"/>
 <path class="m" d="M872 548.5 L1054.6 496.4"/>
 <path class="d" d="M858.3 575.9 L903 566.4 M927.5 558.3 L1033 527"/>
 <path class="l" d="M858.3 555.6 L858.3 575.5" style="stroke-width:1.5"/>
 <!-- L->F bar -->
 <path class="w" d="M736.7 480.7 L758.5 477.2 L796.1 495.5 L821.7 517.6 L875.9 536.6 L881.4 544.7 L858.3 555.6 L858.3 575.9 L800 546.1 L777.8 533 L741.2 510.7 L735.2 503 L735.2 489.4Z"/>
 <path class="d" d="M796.1 495.5 L796.1 504.6 L820.4 517.8"/>
 <path class="d" d="M735.5 489 Q734.5 497 736.2 503.6 Q738 508 741.2 510.7 L777.8 533"/>
 <path class="k" d="M779 509.5 L779 534"/>
 <path class="k" d="M800 546.1 L857 575.9"/>
 <path class="d" d="M779.8 508.7 L796.1 504.6"/><path class="m" d="M779.8 509.5 L816 529"/>
 <!-- pad 1 -->
 <path class="dw" d="M738 481.5 Q738.5 478.5 743 478 L756 477 Q759 477 761 478.5 L796.1 495.5 L796.1 504.6 L779.8 508.7 L740 490.5 Q736.5 488 738 481.5Z"/>
 <path d="M739 486 L780 505 L795 501 L796 504.6 L779.8 508.7 L739.5 490Z" fill="#aaa"/>
 <ellipse class="gd" cx="756.5" cy="485.3" rx="3.6" ry="1.9"/><ellipse class="gd" cx="779.8" cy="497.5" rx="3.6" ry="1.9"/>
 <!-- pad 2 -->
 <path class="dw" d="M816 521 Q818 517.5 823 518 L875.9 536.6 Q883 540 881 545 L866 553.5 Q862 555.5 857 553.5 L817 529.5 Q813.5 526 816 521Z"/>
 <path d="M815.5 525 L860 550.5 L880 542 L881 545.5 L863 555 L816 529.5Z" fill="#aaa"/>
 <ellipse class="gd" cx="831.9" cy="524.4" rx="3.6" ry="1.9"/><ellipse class="gd" cx="865.1" cy="541.4" rx="3.6" ry="1.9"/>
 <!-- channel between pads (outer face) -->
 <path class="l" d="M781.9 512.7 L806.2 530 L806.2 545 M783 520 L803 535 M783 527 L800 540 M790 511 L812 527" style="stroke-width:1.4"/>
 <!-- ===== front leg ===== -->
 <path class="dw" d="M904.4 546.1 L926.8 543.4 L921 613.6 L930 622 L898.5 632Z"/>
 <path class="l" d="M909 546 L903.5 628" style="stroke-width:2"/>
 <path class="m" d="M921 613.6 L906 622"/>
 <!-- ===== scissor mechanism left ===== -->
 <!-- lug on frame underside -->
 <path class="dw" d="M759 540 L759.5 533 Q763.5 527 768 532 L768 540"/>
 <!-- back arms (gray long) -->
 <path class="d" d="M819.7 554.9 L895.6 628.1"/>
 <path d="M810.2 568.5 L872.5 637.6" stroke="#999" stroke-width="2.8" fill="none"/>
 <path class="d" d="M804.7 584.7 L854.9 634.9"/>
 <path class="d" d="M784.4 580.7 L849.5 634.9"/>
 <path class="m" d="M776.3 586.1 L841.4 626.8"/>
 <path class="d" d="M744.2 566.6 L850 630.3"/>
 <path class="d" d="M755 570.7 L809.3 606 M766 574.7 L825.6 606"/>
 <path class="d" d="M734.7 566.6 L784.9 624.9"/>
 <path class="l" d="M742 568 L796 622" style="stroke-width:1.5"/>
 <path class="dw" d="M806 610.5 L812 607.5 L825 617 L819 620.5Z"/>
 <path class="m" d="M790 600 L806 610.5 M825 617 L846 630"/>
 <!-- front arm with gray band -->
 <path d="M722 565 L735 567 L770 613 L763 619Z" fill="#999"/>
 <path class="d" d="M707.6 561.2 L763.2 619.5 M734.7 566.6 L771 613"/>
 <!-- cross tube -->
 <path class="dw" d="M713 543.6 L775.4 540.8 L776.8 565.3 L715.8 567.3Z"/>
 <path d="M721 548 L774 545.5 L774 550.5 L730 552Z" fill="#aaa"/>
 <path class="m" d="M732 539.5 Q733 536 737 536 Q741 536 741.5 539.5"/>
 <ellipse class="dw" cx="713" cy="555.6" rx="6" ry="11.7" transform="rotate(-8 713 555.6)"/>
 <path class="k" d="M775.4 540.8 L776.8 565.3"/>
 <!-- bracket right of tube -->
 <path class="d" d="M776.8 543.6 L802.5 553 L805.3 574.7 M780 566 L792 572.5"/>
 <ellipse class="dw" cx="779.8" cy="561.2" rx="3.5" ry="5"/><ellipse class="dw" cx="797.8" cy="572" rx="3.5" ry="5.5"/>
 <path class="k" d="M801 560 Q806 570 802 579"/>
 <path class="l" d="M806 545 L806.5 556 M808 577 L842 620" style="stroke-width:2.2"/>
 <!-- ===== base left: triangle plate, vertical plate ===== -->
 <path class="dw" d="M737.3 634.6 L767.8 621.4 L798.3 632.5 L800.3 680.3 L806 681.3 L863.4 662 L865.4 663 L802.4 650.8 L798.3 659 L767.8 642.7 L739.3 638.6Z"/>
 <path class="w" d="M737.3 634.6 L767.8 621.4 L798.3 632.5 L799 659 L767.8 642.7 L739.3 638.6Z"/>
 <path class="d" d="M767.8 621.4 L737.3 634.6 Q736 637.5 739.3 638.6 L767.8 642.7 L798.3 659"/>
 <ellipse class="dw" cx="776.9" cy="631.5" rx="3.6" ry="4.6"/><ellipse class="dw" cx="794.2" cy="642.7" rx="3.6" ry="4.8"/>
 <path class="k" d="M798.3 632.5 L800.3 680.3 L806 681.3 L863.4 662"/>
 <path class="d" d="M808.5 659 L810.5 668.1 L843 660"/>
 <path class="k" d="M784 621.5 L797 621 L798.5 633"/>
 <!-- lower arm to pivot -->
 <path class="dw" d="M802.4 633.6 Q830 634 863.4 643.7 L865.4 663 L802.4 650.8Z"/>
 <path d="M808 640 Q835 641 860 649 L860 655 Q835 648 808 646Z" fill="#aaa"/>
 <path d="M822 646 L858 653" stroke="#fcfcfc" stroke-width="1.3" stroke-dasharray="6 3" fill="none"/>
 <!-- pivot cylinder -->
 <path class="dw" d="M873 644 L886 646.5 Q892 656 888 669 L876 668.5Z"/>
 <path class="gd" d="M882 646 Q889 657 885 669 L889 669 Q893 657 887 646.5Z"/>
 <ellipse class="dw" cx="873.8" cy="656" rx="8" ry="12" transform="rotate(-8 873.8 656)"/>
 <!-- bracket + nut over pivot -->
 <path class="dw" d="M866 640 L898.5 633 L945 643 L944 652 L930 660 L905 668 L893 650Z"/>
 <path class="g" d="M893 636 L903 634 L915 655 L906 660Z"/>
 <path class="k" d="M893 636 L906 660 M903 634 L915 656"/>
 <path class="dw" d="M911 637 L911 628 Q917 626 917 622 Q918 612 925.5 611.5 Q933 612 934 622 Q934 626 938 628 L938 638 Q925 642 911 637Z"/>
 <path class="m" d="M917 622.5 Q925 626 934 622.5 M911 630 Q925 635 938 630"/>
 <!-- clevis rings + wheel -->
 <path class="dw" d="M935.3 643 Q950 647 952.5 661 Q952 675 938 683 L925 686 L915 672 L930 655Z"/>
 <path class="l" d="M938 648 Q947 655 946 668 Q944 676 937 680 M934 652 Q941 658 940 668"/>
 <path class="dw" d="M903 652 Q910 646 922 648 L933 653 L932 685 Q925 690 915 688 Q903 684 898 672 Q897 660 903 652Z"/>
 <ellipse class="k" cx="920.5" cy="661.5" rx="8.6" ry="5" transform="rotate(8 920.5 661.5)"/>
 <ellipse class="g" cx="920.5" cy="661.5" rx="5" ry="2.4" transform="rotate(8 920.5 661.5)"/>
 <ellipse class="k" cx="920.5" cy="677.5" rx="8.6" ry="5" transform="rotate(8 920.5 677.5)"/>
 <ellipse class="g" cx="920.5" cy="677.5" rx="5" ry="2.4" transform="rotate(8 920.5 677.5)"/>
 <path class="k" d="M903 652 Q896 664 901 676 Q906 685 915 688"/>
 <!-- ===== L bar ===== -->
 <path class="dw" d="M838 676 Q832 679 834 686 L899 717.5 Q906 720 912 717 L1024 664 Q1030 660 1026.5 655.5 Q1023 652.5 1018 655 L908 708 Q905 709.5 902 708 L845 677 Q841 675 838 676Z"/>
 <path d="M898 706 L894 716" stroke="#aaa" stroke-width="2.2" fill="none"/>
 <ellipse class="m" cx="1009" cy="662.5" rx="4" ry="2.6" transform="rotate(-25 1009 662.5)"/>
 <path class="m" d="M1003 662 L1004 668"/>
 <!-- ===== hook rod ===== -->
 <path class="dw" d="M1136 589 Q1134 593 1137 595.5 Q1156 594 1164 602 Q1168 609 1160 612 Q1150 613 1139 613 L1024 680.5 L1027.5 686 L1142 620 Q1158 620.5 1168 616 Q1176 610 1171 599 Q1162 587 1136 589Z"/>
 <path class="dw" d="M1022 677.5 L968 706 Q964 711 968.5 716.5 L1028 686.5 Q1028 680 1022 677.5Z"/>
 <path class="m" d="M972 704.5 Q969 710 973 715"/>
 <path class="dw" d="M966 709 L941 722.5 Q937.5 727 941 731 L967.5 717Z"/>
 <path class="m" d="M953 716.5 L955.5 723.5"/>
</g>
</g>
</svg>
</body></html>
